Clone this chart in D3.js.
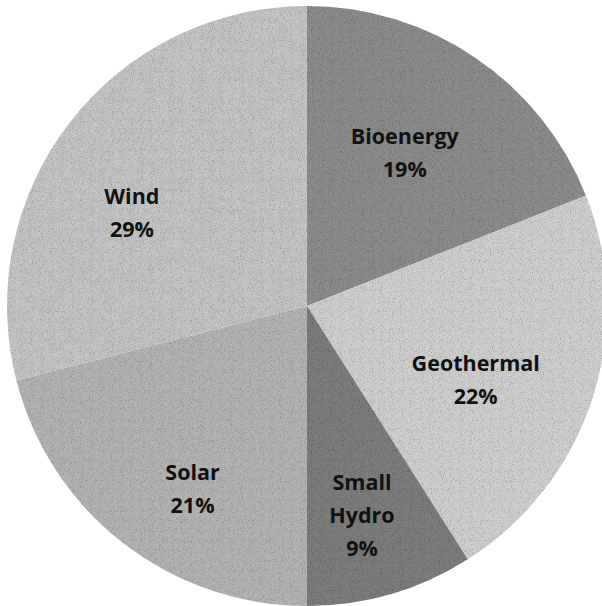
<!DOCTYPE html>
<html>
<head>
<meta charset="utf-8">
<script src="https://cdn.jsdelivr.net/npm/d3@7"></script>
<style>
  html, body { margin: 0; padding: 0; background: #fff; }
  svg { display: block; }
</style>
</head>
<body>
<svg id="chart" width="602" height="606"></svg>
<script>
'use strict';

// data, clockwise from 12 o'clock
const sources = ["Bioenergy", "Geothermal", "Small Hydro", "Solar", "Wind"];
const shares = [19, 22, 9, 21, 29];
const labelLines = [["Bioenergy"], ["Geothermal"], ["Small", "Hydro"], ["Solar"], ["Wind"]];

const W = 602, H = 606;
const cx = 307, cy = 306, R = 300;

// grey shades of the slices
const shade = d3.scaleOrdinal()
  .domain(sources)
  .range(["#8b8b8b", "#cdcdcd", "#7b7b7b", "#b2b2b2", "#c3c3c3"]);

// Excel "best fit" puts labels a bit off the centroid, nudge them
const nudge = {
  "Bioenergy": [-9, 4],
  "Geothermal": [-12, 15],
  "Small Hydro": [2, 27],
  "Solar": [2, 33],
  "Wind": [-25, 23]
};

const svg = d3.select("#chart");

// grainy texture like the scanned original
const defs = svg.append("defs");
const grain = defs.append("filter").attr("id", "grain")
  .attr("x", 0).attr("y", 0).attr("width", 1).attr("height", 1);
grain.append("feTurbulence")
  .attr("type", "fractalNoise").attr("baseFrequency", 1.1)
  .attr("numOctaves", 1).attr("seed", 3).attr("result", "noise");
grain.append("feColorMatrix").attr("in", "noise").attr("type", "matrix")
  .attr("values", "0 0 0 0 0  0 0 0 0 0  0 0 0 0 0  -1.4 0 0 0 0.7")
  .attr("result", "dots");
grain.append("feComposite").attr("in", "dots").attr("in2", "SourceAlpha")
  .attr("operator", "in").attr("result", "dotsIn");
grain.append("feMerge").call(m => {
  m.append("feMergeNode").attr("in", "SourceGraphic");
  m.append("feMergeNode").attr("in", "dotsIn");
});

const g = svg.append("g").attr("transform", `translate(${cx},${cy})`);

const pie = d3.pie().sort(null).value(d => d.value);
const arcs = pie(sources.map((s, i) => ({name: s, value: shares[i], lines: labelLines[i]})));

const arc = d3.arc().innerRadius(0).outerRadius(R);
const labelArc = d3.arc().innerRadius(190).outerRadius(190);

g.selectAll("path.slice")
  .data(arcs)
  .join("path")
  .attr("class", "slice")
  .attr("d", arc)
  .attr("fill", d => shade(d.data.name))
  .attr("filter", "url(#grain)");

const lineH = 33;
const labels = g.selectAll("text.lbl")
  .data(arcs)
  .join("text")
  .attr("class", "lbl")
  .attr("transform", d => {
    const [x, y] = labelArc.centroid(d);
    const n = nudge[d.data.name];
    return `translate(${x + n[0]},${y + n[1]})`;
  })
  .attr("text-anchor", "middle")
  .style("font-family", "'Open Sans', 'Liberation Sans', sans-serif")
  .style("font-weight", "700")
  .style("font-size", "21.5px")
  .style("fill", "#111");

labels.each(function(d) {
  const lines = d.data.lines.concat([d.data.value + "%"]);
  const t = d3.select(this);
  const top = -(lines.length - 1) * lineH / 2;
  lines.forEach((ln, i) => {
    t.append("tspan").attr("x", 0).attr("y", top + i * lineH).attr("dy", "0.35em").text(ln);
  });
});
</script>
</body>
</html>
